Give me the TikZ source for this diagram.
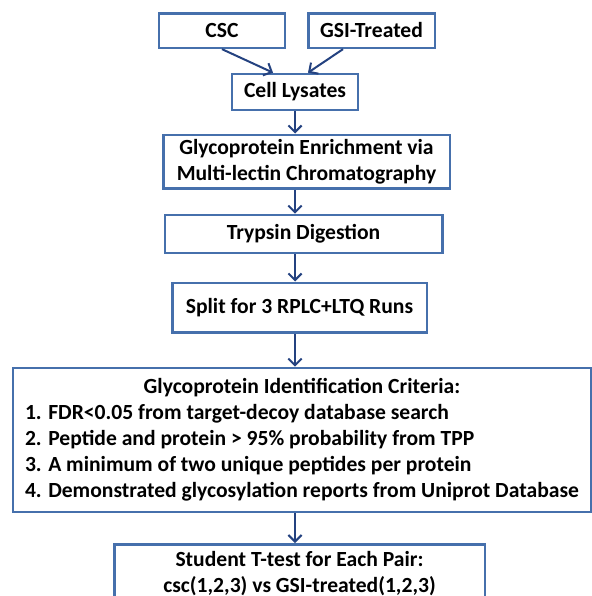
\documentclass[tikz,border=0pt]{standalone}
\usepackage{fontspec}
\setmainfont{Carlito}
\usetikzlibrary{arrows.meta,positioning}

\definecolor{boxblue}{RGB}{70,112,172}
\definecolor{arrowblue}{RGB}{36,66,128}

\tikzset{
  stage/.style={draw=boxblue, line width=2pt, inner sep=0pt, align=center,
    font=\bfseries\fontsize{16.2}{19.5}\selectfont},
  flow/.style={draw=arrowblue, line width=1.5pt,
    -{Straight Barb[length=5pt,width=10pt]}}
}

\begin{document}
\begin{tikzpicture}[x=0.75pt,y=-0.75pt]
  \useasboundingbox (0,0) rectangle (592,596);

  % samples
  \node[stage, minimum width=94.5pt, minimum height=26pt] (csc) at (222,30.5) {CSC};
  \node[stage, minimum width=95pt, minimum height=26pt] (gsi) at (371.5,30.5) {GSI-Treated};

  % preparation
  \node[stage, minimum width=94.5pt, minimum height=27pt] (lysate) at (295,92) {Cell Lysates};
  \node[stage, minimum width=215pt, minimum height=40pt] (enrich) at (306.5,161.5)
    {Glycoprotein Enrichment via\\Multi-lectin Chromatography};
  \node[stage, minimum width=208pt, minimum height=28.5pt] (trypsin) at (303.5,234) {Trypsin Digestion};
  \node[stage, minimum width=191pt, minimum height=37pt] (split) at (299.5,307.5) {Split for 3 RPLC+LTQ Runs};

  % criteria
  \node[stage, minimum width=433.5pt, minimum height=108pt] (criteria) at (302,440)
    {\begin{tabular}{@{}l@{}}
      \multicolumn{1}{c}{Glycoprotein Identification Criteria:}\\
      1. FDR<0.05 from target-decoy database search\\
      2. Peptide and protein > 95\% probability from TPP\\
      3. A minimum of two unique peptides per protein\\
      4. Demonstrated glycosylation reports from Uniprot Database
    \end{tabular}};

  % statistics
  \node[stage, anchor=north, minimum width=278pt, inner ysep=5pt, text depth=40pt] (ttest) at (299.5,543)
    {Student T-test for Each Pair:\\csc(1,2,3) vs GSI-treated(1,2,3)};

  \draw[flow] (csc.south) -- ([xshift=-16.5pt]lysate.north);
  \draw[flow] ([xshift=-21.4pt]gsi.south) -- ([xshift=9.75pt]lysate.north);
  \draw[flow] (lysate.south) -- (lysate.south |- enrich.north);
  \draw[flow] (enrich.south -| lysate.south) -- (trypsin.north -| lysate.south);
  \draw[flow] (trypsin.south -| lysate.south) -- (split.north -| lysate.south);
  \draw[flow] (split.south -| lysate.south) -- (criteria.north -| lysate.south);
  \draw[flow] (criteria.south -| lysate.south) -- (ttest.north -| lysate.south);
\end{tikzpicture}
\end{document}
